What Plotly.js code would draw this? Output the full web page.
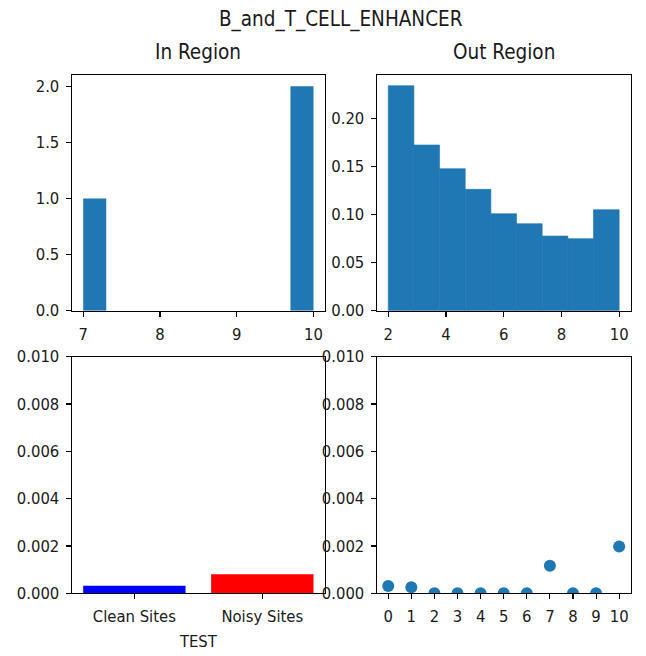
<!DOCTYPE html>
<html>
<head>
<meta charset="utf-8">
<script src="https://cdn.plot.ly/plotly-3.0.1.min.js"></script>
<style>html,body{margin:0;padding:0;background:#fff;}#chart{width:646px;height:656px;}</style>
</head>
<body>
<div id="chart"></div>
<script>
// In Region histogram: bin edges and counts
const inEdges = [7.0, 7.3, 7.6, 7.9, 8.2, 8.5, 8.8, 9.1, 9.4, 9.7, 10.0];
const inCounts = [1, 0, 0, 0, 0, 0, 0, 0, 0, 2];
// Out Region histogram (density): bin edges and heights
const outEdges = [2.0, 2.889, 3.778, 4.667, 5.556, 6.444, 7.333, 8.222, 9.111, 10.0];
const outDensity = [0.2344, 0.1726, 0.1479, 0.1264, 0.1010, 0.0906, 0.0778, 0.0750, 0.1052];
// Bottom-left bars
const siteCats = ["Clean Sites", "Noisy Sites"];
const siteVals = [0.00032, 0.00080];
const siteColors = ["#0000ff", "#ff0000"];
// Bottom-right scatter
const pointX = [0, 1, 2, 3, 4, 5, 6, 7, 8, 9, 10];
const pointY = [0.00031, 0.00026, 0, 0, 0, 0, 0, 0.00116, 0, 0, 0.00198];

function centers(edges){ const c=[]; for(let i=0;i<edges.length-1;i++) c.push((edges[i]+edges[i+1])/2); return c; }
function widths(edges){ const w=[]; for(let i=0;i<edges.length-1;i++) w.push(edges[i+1]-edges[i]); return w; }

const BLUE = "#1f77b4";
const FONT = "DejaVu Sans Condensed, DejaVu Sans, sans-serif";
const W = 646, H = 656;

const traces = [
  {type:"bar", x:centers(inEdges), y:inCounts, width:widths(inEdges), marker:{color:BLUE, line:{width:0}}, xaxis:"x", yaxis:"y", showlegend:false},
  {type:"bar", x:centers(outEdges), y:outDensity, width:widths(outEdges), marker:{color:BLUE, line:{width:0.6, color:BLUE}}, xaxis:"x2", yaxis:"y2", showlegend:false},
  {type:"bar", x:siteCats, y:siteVals, width:0.8, marker:{color:siteColors, line:{width:0}}, xaxis:"x3", yaxis:"y3", showlegend:false},
  {type:"scatter", mode:"markers", x:pointX, y:pointY, marker:{color:BLUE, size:12}, cliponaxis:true, xaxis:"x4", yaxis:"y4", showlegend:false}
];

function ax(extra){
  return Object.assign({
    showline:true, mirror:true, linecolor:"#000", linewidth:1.1,
    ticks:"outside", ticklen:5, tickwidth:1.1, tickcolor:"#000",
    showgrid:false, zeroline:false, fixedrange:true, automargin:false,
    tickfont:{family:FONT, size:16.5, color:"#1a1a1a"}, ticklabelstandoff:3
  }, extra);
}

const xL = [71.7/W, 325/W], xR = [376.7/W, 630.7/W];
const yT = [(H-310.7)/H, (H-75)/H], yB = [(H-593.3)/H, (H-356.7)/H];
const TFONT = {family:FONT, size:20.5, color:"#1a1a1a"};

const layout = {
  width:W, height:H,
  margin:{l:0, r:0, t:0, b:0},
  paper_bgcolor:"#fff", plot_bgcolor:"#fff",
  font:{family:FONT, color:"#1a1a1a"},
  title:{text:"B_and_T_CELL_ENHANCER", x:340.7/W, xanchor:"center", y:(H-19)/H, yanchor:"middle", yref:"paper", font:TFONT},
  xaxis: ax({domain:xL, anchor:"y", range:[6.85, 10.15], tickvals:[7,8,9,10]}),
  yaxis: ax({domain:yT, anchor:"x", range:[0, 2.1], tickvals:[0,0.5,1,1.5,2], tickformat:".1f"}),
  xaxis2: ax({domain:xR, anchor:"y2", range:[1.6, 10.4], tickvals:[2,4,6,8,10]}),
  yaxis2: ax({domain:yT, anchor:"x2", range:[0, 0.2455], tickvals:[0,0.05,0.1,0.15,0.2], tickformat:".2f"}),
  xaxis3: ax({domain:xL, anchor:"y3", type:"category", range:[-0.49, 1.49], title:{text:"TEST", font:{family:FONT, size:16.5, color:"#1a1a1a"}, standoff:10}}),
  yaxis3: ax({domain:yB, anchor:"x3", range:[0, 0.01], tickvals:[0,0.002,0.004,0.006,0.008,0.01], tickformat:".3f"}),
  xaxis4: ax({domain:xR, anchor:"y4", range:[-0.5, 10.5], tickvals:pointX}),
  yaxis4: ax({domain:yB, anchor:"x4", range:[0, 0.01], tickvals:[0,0.002,0.004,0.006,0.008,0.01], tickformat:".3f"}),
  annotations:[
    {text:"In Region", xref:"paper", yref:"paper", x:(xL[0]+xL[1])/2, y:(H-52)/H, xanchor:"center", yanchor:"middle", showarrow:false, font:TFONT},
    {text:"Out Region", xref:"paper", yref:"paper", x:(xR[0]+xR[1])/2, y:(H-52)/H, xanchor:"center", yanchor:"middle", showarrow:false, font:TFONT}
  ]
};

Plotly.newPlot("chart", traces, layout, {staticPlot:true, displayModeBar:false});
</script>
</body>
</html>
